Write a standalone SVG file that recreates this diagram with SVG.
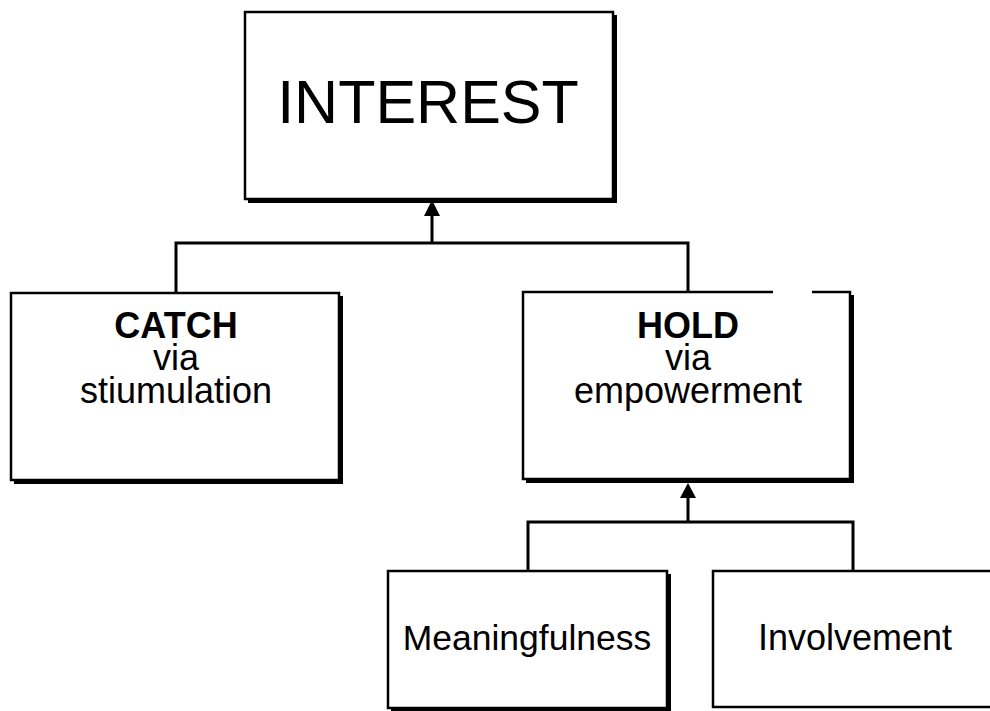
<svg xmlns="http://www.w3.org/2000/svg" width="990" height="711" viewBox="0 0 990 711">
<style>
.box{fill:#fff;stroke:#000;stroke-width:2.5}
.shadow{fill:#000}
.t{font-family:"Liberation Sans",Arial,sans-serif;fill:#000;text-anchor:middle}
.b{font-weight:bold}
.con{fill:none;stroke:#000;stroke-width:3}
.head{fill:#000}
</style>
<rect width="990" height="711" fill="#fff"/>
<g id="connectors">
<path class="con" d="M432 243 V210"/>
<polygon class="head" points="432,200 440,216 424,216"/>
<path class="con" d="M176 293 V243 H688 V292"/>
<path class="con" d="M688 522 V492"/>
<polygon class="head" points="688,483 696,498 680,498"/>
<path class="con" d="M528 571 V522 H853 V571"/>
</g>
<g id="interest">
<rect class="shadow" x="248" y="15" width="369" height="188"/>
<rect class="box" x="245" y="12" width="368" height="187"/>
<text class="t" x="428" y="123" font-size="61">INTEREST</text>
</g>
<g id="catch">
<rect class="shadow" x="14" y="296" width="329" height="188"/>
<rect class="box" x="11" y="293" width="328" height="187"/>
<text class="t" font-size="36"><tspan class="b" x="176" y="338">CATCH</tspan><tspan x="176" y="370">via</tspan><tspan x="176" y="403">stiumulation</tspan></text>
</g>
<g id="hold">
<rect class="shadow" x="526" y="295" width="328" height="188"/>
<rect class="box" x="523" y="292" width="327" height="187"/>
<rect x="773" y="288" width="39" height="6" fill="#fff"/>
<text class="t" font-size="36"><tspan class="b" x="688" y="338">HOLD</tspan><tspan x="688" y="370">via</tspan><tspan x="688" y="403">empowerment</tspan></text>
</g>
<g id="meaningfulness">
<rect class="shadow" x="391" y="574" width="280" height="140"/>
<rect class="box" x="388" y="571" width="279" height="137"/>
<text class="t" x="527" y="650" font-size="35.5">Meaningfulness</text>
</g>
<g id="involvement">
<rect class="box" x="713" y="571" width="290" height="136"/>
<text class="t" x="855" y="650" font-size="36">Involvement</text>
</g>
</svg>
